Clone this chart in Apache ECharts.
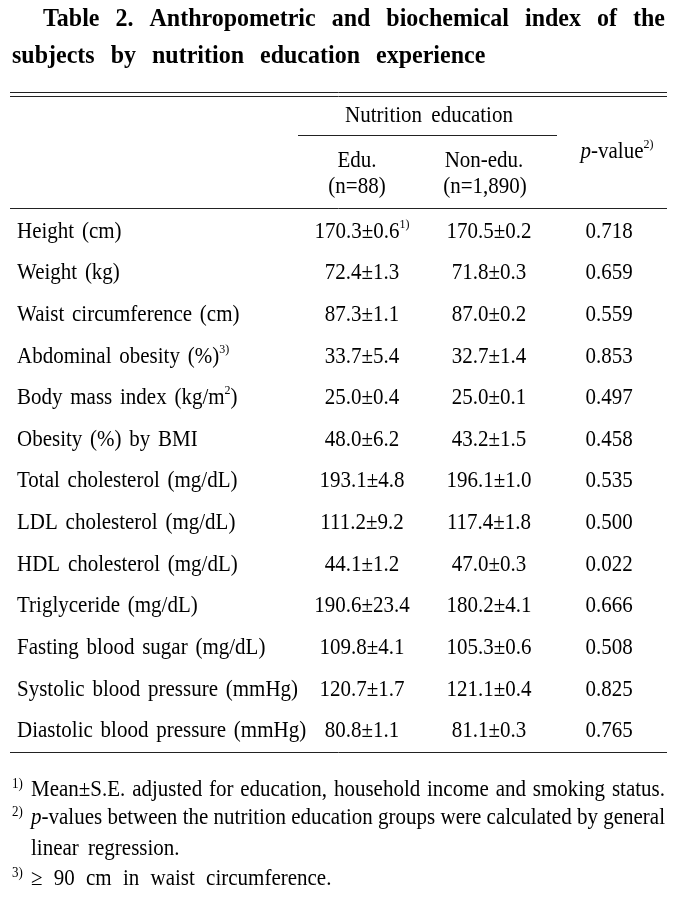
<!DOCTYPE html>
<html><head><meta charset="utf-8">
<script src="https://cdn.jsdelivr.net/npm/echarts/dist/echarts.min.js"></script>
<style>html,body{margin:0;padding:0;background:#fff}#c{width:687px;height:899px}</style>
</head><body><div id="c"></div>
<script>
// ---------- DATA ----------
const titleLines = ["Table 2. Anthropometric and biochemical index of the", "subjects by nutrition education experience"];
const groupHeader = "Nutrition education";
const eduHeader = ["Edu.", "(n=88)"];
const nonEduHeader = ["Non-edu.", "(n=1,890)"];
const pHeader = "{i|p}-value{sup|2)}";
const rowLabels = ["Height (cm)", "Weight (kg)", "Waist circumference (cm)", "Abdominal obesity (%){sup|3)}",
  "Body mass index (kg/m{sup|2})", "Obesity (%) by BMI", "Total cholesterol (mg/dL)", "LDL cholesterol (mg/dL)",
  "HDL cholesterol (mg/dL)", "Triglyceride (mg/dL)", "Fasting blood sugar (mg/dL)", "Systolic blood pressure (mmHg)",
  "Diastolic blood pressure (mmHg)"];
const eduMean = [170.3, 72.4, 87.3, 33.7, 25.0, 48.0, 193.1, 111.2, 44.1, 190.6, 109.8, 120.7, 80.8];
const eduSE = [0.6, 1.3, 1.1, 5.4, 0.4, 6.2, 4.8, 9.2, 1.2, 23.4, 4.1, 1.7, 1.1];
const nonEduMean = [170.5, 71.8, 87.0, 32.7, 25.0, 43.2, 196.1, 117.4, 47.0, 180.2, 105.3, 121.1, 81.1];
const nonEduSE = [0.2, 0.3, 0.2, 1.4, 0.1, 1.5, 1.0, 1.8, 0.3, 4.1, 0.6, 0.4, 0.3];
const pValues = [0.718, 0.659, 0.559, 0.853, 0.497, 0.458, 0.535, 0.500, 0.022, 0.666, 0.508, 0.825, 0.765];
const firstCellNote = "1)";
const footMarks = ["1)", "2)", "", "3)"];
const footLines = ["Mean±S.E. adjusted for education, household income and smoking status.",
  "{i|p}-values between the nutrition education groups were calculated by general",
  "linear regression.",
  "≥ 90 cm in waist circumference."];

// ---------- LAYOUT ----------
const COL_X = [17, 362, 489, 609];
const COL_ALIGN = ['left', 'center', 'center', 'center'];
const SERIF = '"Liberation Serif", "Times New Roman", serif';
const BODY = 21, SY = 1.08, WORD_EXTRA = 2.5;
const mctx = document.createElement('canvas').getContext('2d');
function fontStr(size, style, weight) { return (style || 'normal') + ' ' + (weight || 'normal') + ' ' + size + 'px ' + SERIF; }
function measure(t, f) { mctx.font = f; return mctx.measureText(t).width; }
function parse(str) {
  const out = []; const re = /\{(\w+)\|([^}]*)\}/g; let last = 0, m;
  while ((m = re.exec(str))) {
    if (m.index > last) out.push({ t: str.slice(last, m.index), k: 'n' });
    out.push({ t: m[2], k: m[1] }); last = re.lastIndex;
  }
  if (last < str.length) out.push({ t: str.slice(last), k: 'n' });
  return out;
}
function layout(str, o) {
  o = o || {};
  const size = o.size || BODY, weight = o.weight || 'normal';
  const toks = [];
  parse(str).forEach(s => {
    if (s.k === 'sup') { toks.push({ t: s.t, f: fontStr(o.supSize || 12, 'normal', 'normal'), dy: o.supDy || -7 }); return; }
    const f = fontStr(size, s.k === 'i' ? 'italic' : 'normal', weight);
    s.t.split(/( )/).forEach(p => {
      if (p === ' ') toks.push({ space: true, f });
      else if (p) toks.push({ t: p, f, dy: 0 });
    });
  });
  let nat = 0, ns = 0;
  toks.forEach(k => { if (k.space) { k.w = measure(' ', k.f); ns++; } else k.w = measure(k.t, k.f); nat += k.w; });
  let extra = (o.extra != null) ? o.extra : WORD_EXTRA;
  if (o.justify && ns > 0) extra = (o.justify - nat) / ns;
  const total = nat + extra * ns;
  let x = o.align === 'center' ? -total / 2 : (o.align === 'right' ? -total : 0);
  const children = [];
  toks.forEach(k => {
    if (k.space) { x += k.w + extra; return; }
    children.push({ type: 'text', x: x, y: k.dy, silent: true,
      style: { text: k.t, font: k.f, fill: '#000', align: 'left', verticalAlign: 'middle', textAlign: 'left', textVerticalAlign: 'middle' } });
    x += k.w;
  });
  return { children, total, extra };
}
function grp(x, y, lay, sy) { return { type: 'group', x: x, y: y, scaleY: sy == null ? SY : sy, silent: true, children: lay.children }; }
function hline(x1, x2, y, w) { return { type: 'line', silent: true, shape: { x1, y1: y, x2, y2: y }, style: { stroke: '#222', lineWidth: w || 1 } }; }

function cellText(c, r) {
  if (c === 0) return rowLabels[r];
  if (c === 1) return eduMean[r].toFixed(1) + '±' + eduSE[r].toFixed(1) + (r === 0 ? '{sup|' + firstCellNote + '}' : '');
  if (c === 2) return nonEduMean[r].toFixed(1) + '±' + nonEduSE[r].toFixed(1);
  return pValues[r].toFixed(3);
}
const cells = [];
rowLabels.forEach((_, r) => { for (let c = 0; c < 4; c++) cells.push([COL_X[c], r, c]); });

// ---------- STATIC GRAPHICS ----------
const t1 = layout(titleLines[0], { size: 24, weight: 'bold', justify: 622 });
const t2 = layout(titleLines[1], { size: 24, weight: 'bold', extra: t1.extra });
const graphics = [
  grp(43, 20, t1, 1.04), grp(12, 57, t2, 1.04),
  hline(10, 667, 92.5), hline(10, 667, 96.5),
  grp(429, 116, layout(groupHeader, { align: 'center', extra: 4 })),
  hline(298, 557, 135.5),
  grp(357, 161, layout(eduHeader[0], { align: 'center' })),
  grp(357, 187, layout(eduHeader[1], { align: 'center' })),
  grp(484, 161, layout(nonEduHeader[0], { align: 'center' })),
  grp(485, 187, layout(nonEduHeader[1], { align: 'center' })),
  grp(617, 152, layout(pHeader, { align: 'center' })),
  hline(10, 667, 208.5), hline(10, 667, 752.5)
];
const footY = [790, 818, 849, 879];
footLines.forEach((t, i) => {
  if (footMarks[i]) graphics.push(grp(12, footY[i] - 6, layout(footMarks[i], { size: 13 })));
  const opt = (i < 2) ? { justify: 634 } : { extra: i === 3 ? 6 : 4 };
  graphics.push(grp(31, footY[i], layout(t, opt)));
});

const chart = echarts.init(document.getElementById('c'), null, { renderer: 'canvas' });
chart.setOption({
  backgroundColor: '#fff',
  animation: false,
  grid: { left: 0, right: 0, top: 211, bottom: 147 },
  xAxis: { type: 'value', min: 0, max: 687, show: false },
  yAxis: { type: 'category', inverse: true, data: rowLabels.map((_, i) => i), show: false },
  series: [{
    type: 'custom', silent: true, clip: false,
    data: cells,
    renderItem: function (params, api) {
      const c = api.value(2), r = api.value(1);
      const pt = api.coord([api.value(0), r]);
      return grp(pt[0], pt[1], layout(cellText(c, r), { align: COL_ALIGN[c] }));
    }
  }],
  graphic: graphics
});
</script></body></html>
